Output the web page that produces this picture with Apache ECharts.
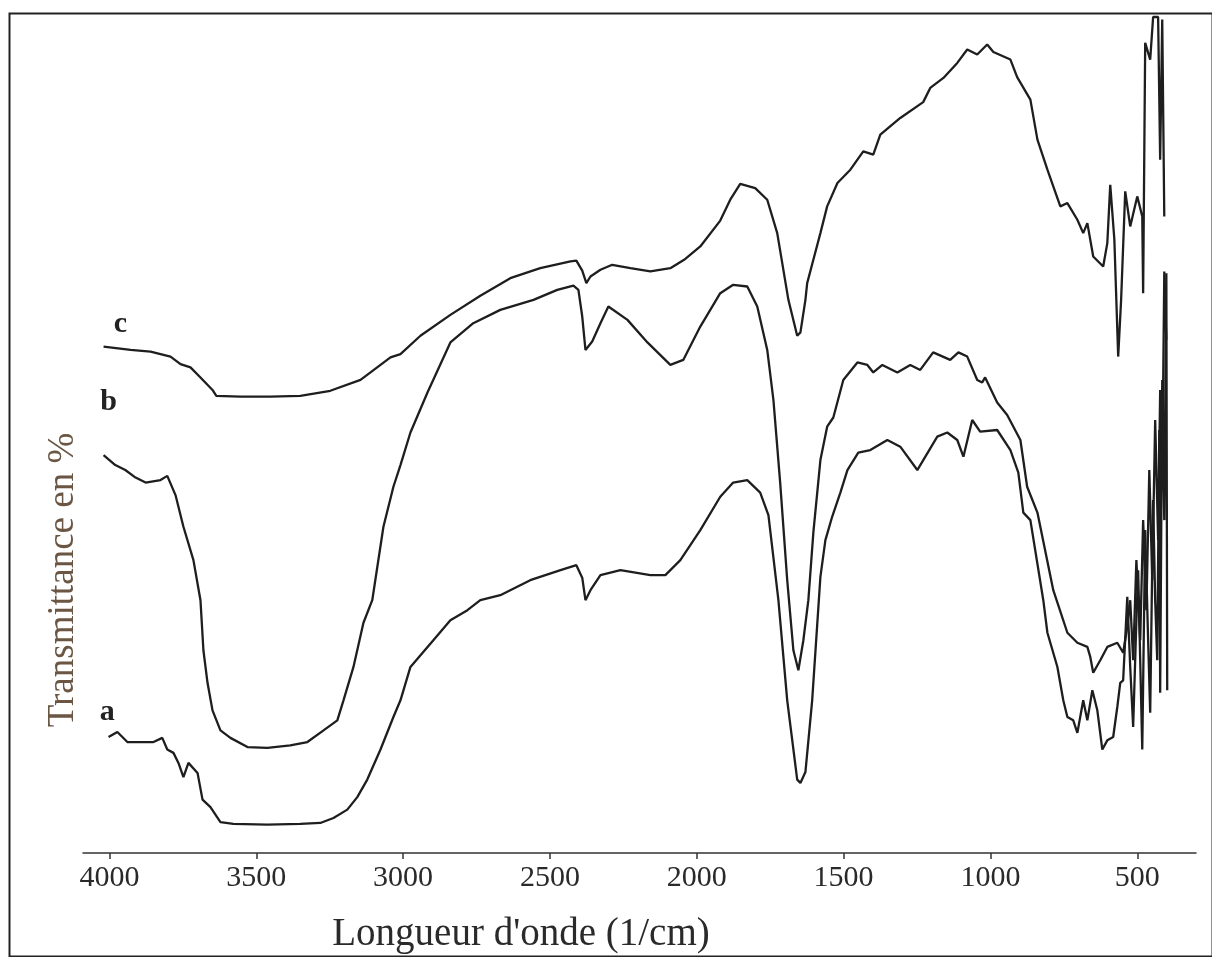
<!DOCTYPE html>
<html>
<head>
<meta charset="utf-8">
<title>FTIR a b c</title>
<script src="https://cdn.jsdelivr.net/npm/echarts@6/dist/echarts.min.js"></script>
<style>
  html, body { margin: 0; padding: 0; background: #fff; }
  #chart { width: 1212px; height: 957px; }
</style>
</head>
<body>
<div id="chart"></div>
<script>
// graduations de l'axe des nombres d'onde
const xTicks = [4000, 3500, 3000, 2500, 2000, 1500, 1000, 500]

// spectres : [nombre d'onde (1/cm), transmittance]
const curveC = [
  [4020, 60.7], [3928, 60.3], [3860, 60.1], [3792, 59.5], [3758, 58.6], [3724, 58.2],
  [3690, 57.0], [3649, 55.5], [3636, 54.8], [3554, 54.7], [3452, 54.7], [3350, 54.8],
  [3248, 55.4], [3145, 56.7], [3043, 59.4], [3009, 59.8], [2941, 62.0], [2839, 64.5],
  [2737, 66.8], [2635, 68.9], [2533, 70.1], [2430, 70.9], [2410, 71.0], [2390, 69.8],
  [2376, 68.3], [2362, 69.1], [2328, 69.9], [2288, 70.5], [2226, 70.1], [2158, 69.7],
  [2090, 70.1], [2039, 71.2], [1988, 72.7], [1920, 75.8], [1886, 78.3], [1852, 80.2],
  [1801, 79.7], [1760, 78.3], [1726, 74.3], [1688, 66.3], [1658, 62.0], [1647, 62.4],
  [1630, 66.3], [1624, 68.3], [1603, 71.1], [1579, 74.3], [1556, 77.5], [1521, 80.3],
  [1477, 81.9], [1433, 84.1], [1399, 83.7], [1375, 86.1], [1307, 88.1], [1229, 90.0],
  [1205, 91.7], [1160, 92.9], [1113, 94.7], [1079, 96.3], [1045, 95.7], [1011, 96.9],
  [990, 96.0], [932, 95.1], [909, 93.0], [864, 90.3], [840, 85.5], [806, 81.9],
  [786, 79.9], [762, 77.5], [738, 77.9], [704, 75.9], [684, 74.3], [670, 75.5],
  [650, 71.5], [616, 70.3], [602, 73.1], [592, 80.1], [578, 73.5], [565, 59.5],
  [555, 66.3], [541, 79.3], [524, 75.1], [500, 78.7], [483, 76.3], [480, 67.1],
  [473, 97.1], [456, 95.1], [446, 100.2], [429, 100.2], [422, 83.1], [415, 99.9],
  [408, 76.3]
]

const curveB = [
  [4020, 47.7], [3980, 46.5], [3946, 45.9], [3911, 45.0], [3877, 44.4], [3826, 44.7],
  [3803, 45.2], [3775, 42.9], [3748, 39.1], [3714, 35.1], [3690, 30.3], [3680, 24.3],
  [3666, 20.4], [3649, 17.1], [3622, 14.7], [3588, 13.8], [3530, 12.7], [3462, 12.6],
  [3384, 12.9], [3326, 13.3], [3271, 14.7], [3224, 15.9], [3203, 18.3], [3169, 22.3],
  [3135, 27.6], [3105, 30.3], [3067, 39.1], [3033, 43.9], [3009, 46.5], [2975, 50.4],
  [2917, 55.2], [2839, 61.2], [2761, 63.5], [2669, 65.1], [2556, 66.3], [2475, 67.5],
  [2420, 68.0], [2403, 67.5], [2390, 64.3], [2379, 60.3], [2356, 61.3], [2328, 63.5],
  [2301, 65.5], [2236, 63.9], [2168, 61.2], [2090, 58.5], [2046, 59.1], [1988, 63.1],
  [1920, 67.1], [1876, 68.1], [1828, 67.9], [1794, 65.5], [1760, 60.3], [1739, 54.3],
  [1716, 44.4], [1692, 32.7], [1671, 24.3], [1654, 21.9], [1637, 25.5], [1620, 30.3],
  [1603, 38.4], [1579, 47.1], [1556, 51.1], [1535, 52.2], [1501, 56.7], [1453, 58.8],
  [1419, 58.5], [1399, 57.6], [1368, 58.5], [1317, 57.6], [1273, 58.5], [1239, 57.9],
  [1195, 60.0], [1137, 59.1], [1109, 60.0], [1079, 59.5], [1045, 56.7], [1028, 56.4],
  [1018, 57.0], [977, 54.0], [943, 52.5], [898, 49.5], [875, 43.9], [840, 40.8],
  [786, 31.5], [738, 26.4], [704, 25.2], [670, 24.7], [660, 23.5], [650, 21.6],
  [626, 23.1], [602, 24.7], [568, 25.2], [548, 24.0], [534, 27.1], [524, 30.3],
  [514, 23.1], [503, 35.1], [490, 25.5], [480, 39.9], [469, 29.1], [459, 45.9],
  [449, 32.7], [439, 51.9], [429, 37.5], [422, 55.5], [415, 44.7], [408, 69.7],
  [401, 61.5]
]

const curveA = [
  [4003, 13.9], [3973, 14.5], [3939, 13.3], [3894, 13.3], [3850, 13.3], [3820, 13.8],
  [3803, 12.4], [3782, 12.0], [3765, 10.8], [3748, 9.1], [3731, 10.8], [3700, 9.6],
  [3683, 6.4], [3656, 5.5], [3622, 3.7], [3578, 3.5], [3462, 3.4], [3350, 3.5],
  [3282, 3.6], [3237, 4.2], [3190, 5.2], [3156, 6.7], [3122, 8.8], [3077, 12.4],
  [3033, 16.3], [3009, 18.3], [2975, 22.3], [2897, 25.5], [2839, 27.9], [2781, 29.1],
  [2737, 30.3], [2669, 30.9], [2567, 32.7], [2464, 33.9], [2410, 34.5], [2390, 33.0],
  [2379, 30.3], [2362, 31.5], [2328, 33.3], [2260, 33.9], [2158, 33.3], [2107, 33.3],
  [2056, 35.1], [1988, 38.7], [1920, 42.7], [1876, 44.4], [1828, 44.7], [1784, 43.2],
  [1756, 40.5], [1722, 30.3], [1692, 18.3], [1658, 8.8], [1647, 8.4], [1630, 9.7],
  [1607, 18.3], [1579, 33.1], [1562, 37.5], [1539, 40.3], [1511, 43.2], [1487, 45.9],
  [1450, 48.0], [1409, 48.3], [1351, 49.5], [1307, 48.7], [1249, 45.9], [1181, 49.9],
  [1147, 50.4], [1113, 49.5], [1092, 47.5], [1062, 51.9], [1035, 50.5], [977, 50.7],
  [932, 48.3], [905, 45.6], [888, 40.8], [864, 39.9], [820, 30.3], [806, 26.4],
  [772, 22.3], [752, 18.3], [738, 16.3], [718, 15.9], [704, 14.4], [684, 18.3],
  [670, 15.9], [653, 19.5], [636, 17.1], [619, 12.4], [602, 13.5], [582, 13.9],
  [568, 17.5], [558, 20.4], [548, 20.7], [534, 30.7], [524, 22.3], [514, 15.1],
  [503, 27.9], [497, 33.9], [483, 12.4], [473, 38.7], [463, 25.5], [456, 16.8],
  [446, 42.3], [439, 30.3], [432, 23.1], [425, 50.7], [422, 19.2], [415, 56.7],
  [408, 39.9], [401, 69.5], [398, 19.5]
]

// étiquettes des courbes : [texte, nombre d'onde, transmittance]
const curveLabels = [
  ['c', 3963, 63.4],
  ['b', 4003, 54.0],
  ['a', 4007, 16.9]
]

const serif = '"Liberation Serif", "DejaVu Serif", serif'
const lineColor = '#1e1e1e'

const chart = echarts.init(document.getElementById('chart'))

const makeSeries = (name, data, label) => ({
  name,
  type: 'line',
  data,
  symbol: 'none',
  animation: false,
  lineStyle: { color: lineColor, width: 2.3 },
  markPoint: {
    symbol: 'circle',
    symbolSize: 0,
    silent: true,
    label: {
      show: true,
      position: 'inside',
      formatter: label[0],
      color: '#222',
      fontFamily: serif,
      fontWeight: 'bold',
      fontSize: 30
    },
    data: [{ coord: [label[1], label[2]] }]
  }
})

const option = {
  backgroundColor: '#fff',
  animation: false,
  grid: { left: 83, right: 16, top: 2, bottom: 104 },
  xAxis: {
    type: 'value',
    min: 300,
    max: 4090,
    inverse: true,
    axisLine: { show: true, onZero: false, lineStyle: { color: '#333', width: 1.5 } },
    axisTick: { show: true, length: 6, customValues: xTicks, lineStyle: { color: '#333', width: 1.5 } },
    axisLabel: {
      customValues: xTicks,
      formatter: v => String(v),
      margin: 10,
      color: '#2a2a2a',
      fontFamily: serif,
      fontSize: 30
    },
    splitLine: { show: false }
  },
  yAxis: {
    type: 'value',
    min: 0,
    max: 102,
    show: false
  },
  series: [
    makeSeries('c', curveC, curveLabels[0]),
    makeSeries('b', curveB, curveLabels[1]),
    makeSeries('a', curveA, curveLabels[2])
  ],
  graphic: [
    {
      type: 'rect',
      left: 7,
      top: 11,
      shape: { width: 1203, height: 943 },
      style: { fill: 'none', stroke: '#222', lineWidth: 2 },
      silent: true
    },
    {
      type: 'text',
      x: 521,
      y: 935,
      style: {
        text: "Longueur d'onde (1/cm)",
        font: '39px ' + serif,
        fill: '#2a2a2a',
        align: 'center',
        verticalAlign: 'middle'
      }
    },
    {
      type: 'text',
      x: 63,
      y: 580,
      rotation: Math.PI / 2,
      style: {
        text: 'Transmittance en %',
        font: '37px ' + serif,
        fill: '#6b5644',
        align: 'center',
        verticalAlign: 'middle'
      }
    }
  ]
}

chart.setOption(option)
window.addEventListener('resize', () => chart.resize())
</script>
</body>
</html>
